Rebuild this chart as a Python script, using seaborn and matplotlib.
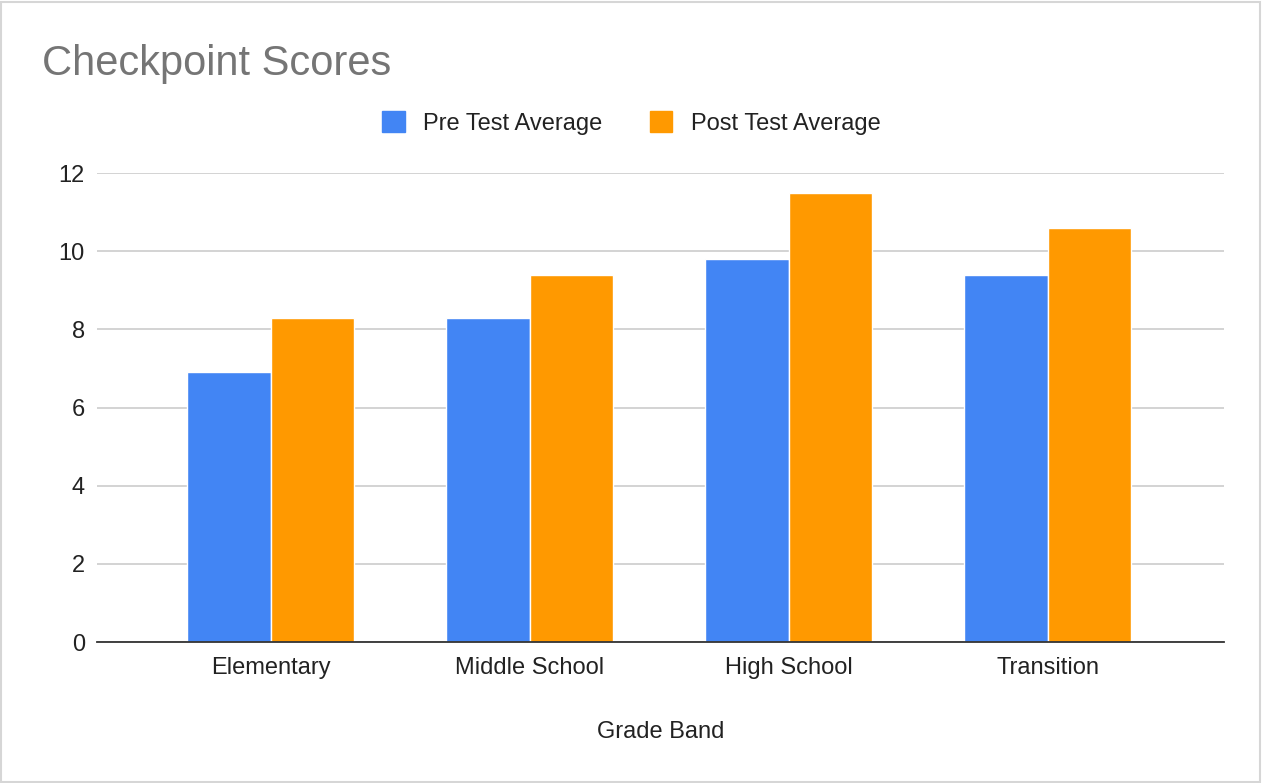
import pandas as pd
import matplotlib.pyplot as plt
import seaborn as sns
from matplotlib.patches import Patch, Rectangle

# data
kategori = ['Elementary', 'Middle School', 'High School', 'Transition']
pre_test = [6.9, 8.3, 9.8, 9.4]
post_test = [8.3, 9.4, 11.5, 10.6]
seri = ['Pre Test Average', 'Post Test Average']
warna = ['#4285F4', '#FF9900']

df = pd.DataFrame({
    'Grade Band': kategori * 2,
    'Nilai': pre_test + post_test,
    'Seri': [seri[0]] * len(kategori) + [seri[1]] * len(kategori),
})

sns.set_style('white')
plt.rcParams['font.family'] = ['Liberation Sans', 'DejaVu Sans']

fig = plt.figure(figsize=(12.63, 7.83), dpi=100)
ax = fig.add_axes([0.077, 0.180, 0.892, 0.599])

sns.barplot(data=df, x='Grade Band', y='Nilai', hue='Seri', hue_order=seri,
            palette=warna, width=0.645, edgecolor='white', linewidth=1.0,
            saturation=1, legend=False, ax=ax)

ax.set_ylim(0, 12)
ax.set_xlim(-0.67, 3.68)
ax.set_yticks(range(0, 13, 2))
ax.grid(axis='y', color='#cccccc', linewidth=1.2)
ax.set_axisbelow(True)
for s in ['top', 'right', 'left']:
    ax.spines[s].set_visible(False)
ax.spines['bottom'].set_color('#333333')
ax.spines['bottom'].set_linewidth(1.3)
ax.tick_params(axis='both', length=0, labelsize=17, colors='#222222')
ax.tick_params(axis='x', pad=11)
ax.tick_params(axis='y', pad=9)
ax.set_ylabel('')
ax.set_xlabel('Grade Band', fontsize=17, color='#222222', labelpad=30)

# judul dan legenda
fig.text(0.033, 0.918, 'Checkpoint Scores', fontsize=30, color='#757575', va='center')
handles = [Patch(facecolor=c, edgecolor=c) for c in warna]
fig.legend(handles, seri, loc='center', bbox_to_anchor=(0.5, 0.843), ncol=2,
           frameon=False, fontsize=17, handlelength=0.95, handleheight=0.95,
           columnspacing=2.0, handletextpad=0.8, labelcolor='#222222')

# bingkai tipis
fig.patches.append(Rectangle((0.001, 0.001), 0.997, 0.997, transform=fig.transFigure,
                             fill=False, edgecolor='#d6d6d6', linewidth=1.5))

plt.savefig('out.png', dpi=100)
